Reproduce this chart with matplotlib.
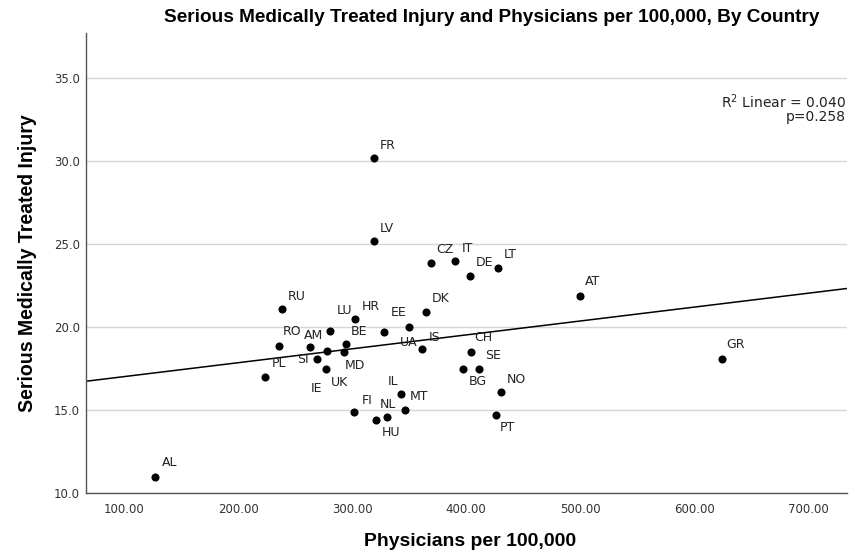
import numpy as np
import matplotlib
matplotlib.use("Agg")
import matplotlib.pyplot as plt

# ---- data ----
countries = ["AL", "GR", "AT", "FR", "LV", "CZ", "IT", "DE", "LT", "DK",
             "RU", "HR", "LU", "EE", "UA", "RO", "AM", "BE", "IE", "UK",
             "MD", "SI", "PL", "IS", "CH", "SE", "BG", "NO", "PT", "IL",
             "MT", "NL", "HU", "FI"]
physicians = [127.0, 624.3, 500.0, 319.3, 319.3, 369.3, 390.1, 403.8, 428.1, 365.0,
              238.6, 303.0, 280.7, 328.3, 350.0, 236.0, 263.0, 295.0, 278.0, 277.0,
              293.0, 269.0, 224.0, 361.0, 404.0, 411.7, 397.6, 431.0, 426.3, 343.2,
              346.5, 331.0, 320.8, 301.8]
injury = [11.0, 18.1, 21.9, 30.2, 25.2, 23.9, 24.0, 23.1, 23.6, 20.9,
          21.1, 20.5, 19.8, 19.7, 20.0, 18.9, 18.8, 19.0, 18.6, 17.5,
          18.5, 18.1, 17.0, 18.7, 18.5, 17.5, 17.5, 16.1, 14.7, 16.0,
          15.0, 14.6, 14.4, 14.9]
x_ticks = [100, 200, 300, 400, 500, 600, 700]
y_ticks = [10, 15, 20, 25, 30, 35]
fit_text = ["R$^2$ Linear = 0.040", "p=0.258"]

# label offsets (pixels: dx to label left edge, dy to label centre, +down)
label_offsets = {
    "AL": (7, -14), "GR": (5, -14), "AT": (5, -14), "FR": (6, -13), "LV": (6, -13),
    "CZ": (5, -13), "IT": (7, -12), "DE": (5, -13), "LT": (6, -13), "DK": (6, -14),
    "RU": (6, -13), "HR": (6, -13), "LU": (7, -20), "EE": (6, -20), "UA": (-9, 15),
    "RO": (4, -14), "AM": (-6, -12), "BE": (4, -12), "IE": (-16, 38), "UK": (5, 14),
    "MD": (1, 13), "SI": (-20, 1), "PL": (6, -14), "IS": (7, -11), "CH": (4, -15),
    "SE": (6, -13), "BG": (5, 13), "NO": (5, -13), "PT": (4, 12), "IL": (-14, -12),
    "MT": (5, -14), "NL": (-8, -12), "HU": (6, 12), "FI": (8, -11),
}

W, H = 862, 556
fig = plt.figure(figsize=(W / 100, H / 100), dpi=100)
fig.patch.set_facecolor("white")
ax = fig.add_axes([85.7 / W, 1 - 493.3 / H, (847 - 85.7) / W, (493.3 - 32.7) / H])

x = np.array(physicians)
y = np.array(injury)
ax.scatter(x, y, s=34, color="black", zorder=3, linewidths=0)

xlim = (66.4, 734.2)
slope, intercept = np.polyfit(x, y, 1)
xx = np.array(xlim)
ax.plot(xx, intercept + slope * xx, color="black", lw=1.1, zorder=2)

for c, xi, yi in zip(countries, physicians, injury):
    dx, dy = label_offsets[c]
    ax.annotate(c, (xi, yi), xytext=(dx * 0.72, -dy * 0.72), textcoords="offset points",
                ha="left", va="center", fontsize=9, color="#222222", zorder=4)

ax.set_xlim(*xlim)
ax.set_ylim(10, 37.75)
ax.set_xticks(x_ticks)
ax.set_xticklabels([f"{v:.2f}" for v in x_ticks])
ax.set_yticks(y_ticks)
ax.set_yticklabels([f"{v:.1f}" for v in y_ticks])
ax.tick_params(axis="both", length=0, labelsize=8.5, colors="#333333")
ax.tick_params(axis="x", pad=7)
ax.tick_params(axis="y", pad=4)
ax.yaxis.grid(True, color="#d6d6d6", lw=1)
ax.set_axisbelow(True)
for s in ["top", "right"]:
    ax.spines[s].set_visible(False)
for s in ["left", "bottom"]:
    ax.spines[s].set_color("#555555")
    ax.spines[s].set_linewidth(1)

bold_family = ["Liberation Sans", "DejaVu Sans"]
t_title = fig.text(492 / W, 1 - 18 / H,
                   "Serious Medically Treated Injury and Physicians per 100,000, By Country",
                   ha="center", va="center", fontsize=14, fontweight="bold", family=bold_family)
t_x = fig.text(470 / W, 1 - 541 / H, "Physicians per 100,000", ha="center", va="center",
               fontsize=14, fontweight="bold", family=bold_family)
t_y = fig.text(28 / W, 1 - 263 / H, "Serious Medically Treated Injury", ha="center", va="center",
               rotation=90, fontsize=14, fontweight="bold", family=bold_family)

fig.text(846 / W, 1 - 101.5 / H, fit_text[0], ha="right", va="center", fontsize=10, color="#222222")
fig.text(846 / W, 1 - 117 / H, fit_text[1], ha="right", va="center", fontsize=10, color="#222222")

# fit the bold titles to the reference extents
renderer = fig.canvas.get_renderer()
for t, target, use_h in [(t_title, 659, False), (t_x, 212, False), (t_y, 299, True)]:
    bb = t.get_window_extent(renderer)
    cur = bb.height if use_h else bb.width
    t.set_fontsize(t.get_fontsize() * target / cur)

fig.savefig("out.png", dpi=100)
